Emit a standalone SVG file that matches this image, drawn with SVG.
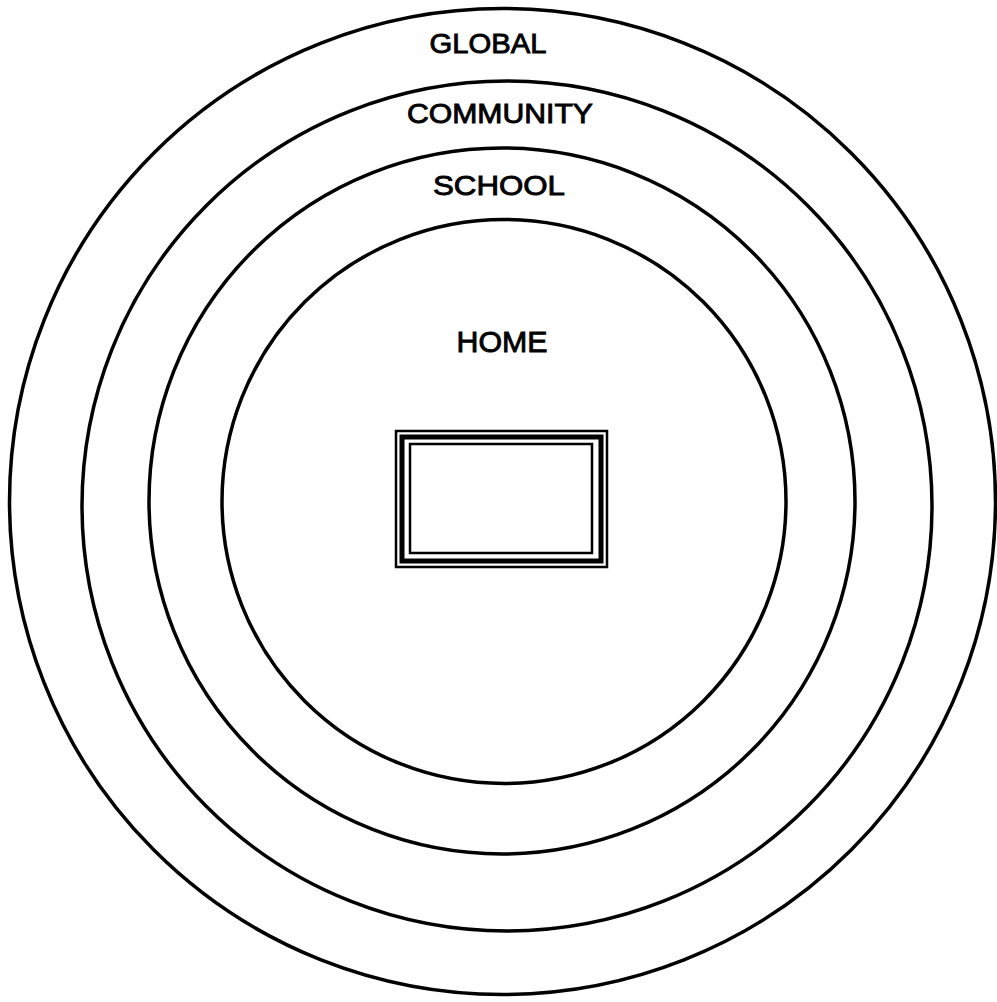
<svg xmlns="http://www.w3.org/2000/svg" width="997" height="1002" viewBox="0 0 997 1002">
<style>
.ring{fill:none;stroke:#000;stroke-width:3.5}
.lbl{font-family:"Liberation Sans",Arial,sans-serif;font-size:28px;fill:#000;stroke:#000;stroke-width:0.9;text-anchor:middle}
.fr{fill:none;stroke:#000}
</style>
<rect width="997" height="1002" fill="#fff"/>
<g id="global">
<circle class="ring" cx="502.5" cy="501.5" r="493"/>
<text class="lbl" x="488" y="53" textLength="117" lengthAdjust="spacingAndGlyphs">GLOBAL</text>
</g>
<g id="community">
<circle class="ring" cx="507" cy="506" r="425"/>
<text class="lbl" x="500" y="123" textLength="186" lengthAdjust="spacingAndGlyphs">COMMUNITY</text>
</g>
<g id="school">
<circle class="ring" cx="502" cy="501" r="353"/>
<text class="lbl" x="499" y="195" textLength="132" lengthAdjust="spacingAndGlyphs">SCHOOL</text>
</g>
<g id="home">
<circle class="ring" cx="504" cy="501.5" r="282"/>
<text class="lbl" x="502" y="352" style="font-size:30px" textLength="91" lengthAdjust="spacingAndGlyphs">HOME</text>
</g>
<g id="frame">
<rect class="fr" x="396" y="431" width="211" height="136" stroke-width="2.5"/>
<rect class="fr" x="402" y="437" width="199" height="124" stroke-width="5"/>
<rect class="fr" x="410" y="444" width="182" height="109" stroke-width="2.5"/>
</g>
</svg>
